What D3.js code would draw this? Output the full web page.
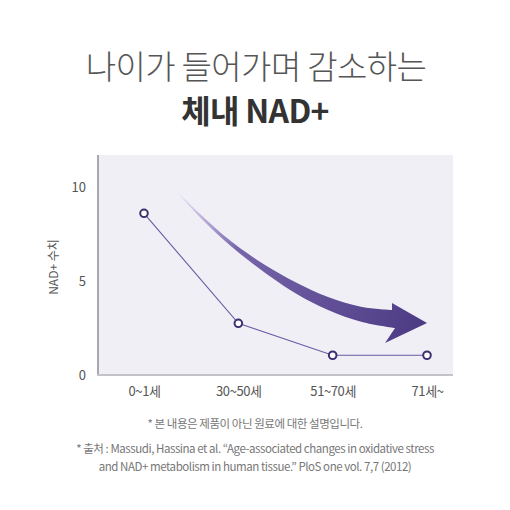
<!DOCTYPE html>
<html>
<head>
<meta charset="utf-8">
<script src="https://cdn.jsdelivr.net/npm/d3@7"></script>
<style>
	body { margin: 0; background: #fff; }
	svg { display: block; font-family: "Noto Sans CJK KR", "Noto Sans", sans-serif; }
</style>
</head>
<body>
<script>
// chart data
var ageGroups = ["0~1세", "30~50세", "51~70세", "71세~"];
var nadValues = [8.6, 2.75, 1.05, 1.05];
var yTicks = [0, 5, 10];
var titleLines = ["나이가 들어가며 감소하는", "체내 NAD+"];
var yLabel = "NAD+ 수치";
var notes = [
	"* 본 내용은 제품이 아닌 원료에 대한 설명입니다.",
	"* 출처 : Massudi, Hassina et al. \u201cAge-associated changes in oxidative stress",
	"and NAD+ metabolism in human tissue.\u201d PloS one vol. 7,7 (2012)"
];
// decorative arrow outline, in (category steps, value) units
var arrowUpper = [[0.307, 10.0], [0.572, 8.67], [0.933, 7.07], [1.283, 5.85], [1.601, 4.95],
	[1.951, 4.15], [2.311, 3.62], [2.629, 3.46]];
var arrowHead = [[2.629, 3.83], [3.0, 2.77], [2.555, 1.7], [2.661, 2.5]];
var arrowLower = [[2.661, 2.5], [2.311, 2.82], [1.951, 3.46], [1.601, 4.36], [1.103, 6.12],
	[0.753, 7.61], [0.488, 8.95], [0.307, 10.0]];

var width = 510, height = 510;
var plot = {left: 98, right: 453, top: 155, bottom: 375};

var svg = d3.select("body").append("svg")
	.attr("width", width)
	.attr("height", height);

var x = d3.scalePoint()
	.domain(ageGroups)
	.range([plot.left + 46, plot.right - 26]);
var y = d3.scaleLinear()
	.domain([0, 11.7])
	.range([plot.bottom, plot.top]);
var step = x.step(), x0 = x(ageGroups[0]);
function ax(s) { return x0 + s*step; }

// titles
svg.append("text")
	.attr("x", width/2 + 1).attr("y", 79)
	.attr("text-anchor", "middle")
	.attr("font-size", 33).attr("font-weight", 300)
	.attr("fill", "#555")
	.attr("letter-spacing", -0.6)
	.text(titleLines[0]);
svg.append("text")
	.attr("x", width/2).attr("y", 123)
	.attr("text-anchor", "middle")
	.attr("font-size", 32).attr("font-weight", 700)
	.attr("fill", "#333")
	.attr("letter-spacing", -0.7)
	.text(titleLines[1]);

// plot background
svg.append("rect")
	.attr("x", plot.left).attr("y", plot.top)
	.attr("width", plot.right - plot.left)
	.attr("height", plot.bottom - plot.top)
	.attr("fill", "#f1eff6");

// decorative arrow with gradient
var defs = svg.append("defs");
var grad = defs.append("linearGradient")
	.attr("id", "arrowGrad")
	.attr("gradientUnits", "userSpaceOnUse")
	.attr("x1", ax(0.307)).attr("y1", y(10.0))
	.attr("x2", ax(3.0)).attr("y2", y(2.77));
grad.append("stop").attr("offset", 0).attr("stop-color", "#f1eff6");
grad.append("stop").attr("offset", 0.1).attr("stop-color", "#cfc5e6");
grad.append("stop").attr("offset", 0.3).attr("stop-color", "#7866ab");
grad.append("stop").attr("offset", 1).attr("stop-color", "#4c3a84");

var edge = d3.line()
	.x(function(d) { return ax(d[0]); })
	.y(function(d) { return y(d[1]); })
	.curve(d3.curveCatmullRom);
var headLine = d3.line()
	.x(function(d) { return ax(d[0]); })
	.y(function(d) { return y(d[1]); });
var arrowD = edge(arrowUpper)
	+ headLine(arrowHead).replace("M", "L")
	+ edge(arrowLower).replace("M", "L") + "Z";
svg.append("path")
	.attr("d", arrowD)
	.attr("fill", "url(#arrowGrad)");

// axes
var yAxis = svg.append("g")
	.attr("transform", "translate(" + plot.left + ",0)")
	.call(d3.axisLeft(y).tickValues(yTicks).tickSize(0).tickPadding(12));
yAxis.select(".domain").remove();
yAxis.selectAll(".tick text")
	.attr("font-size", 13).attr("fill", "#555")
	.style("font-family", "'Noto Sans CJK KR', sans-serif");

var xAxis = svg.append("g")
	.attr("transform", "translate(0," + plot.bottom + ")")
	.call(d3.axisBottom(x).tickSize(0).tickPadding(12));
xAxis.select(".domain").remove();
xAxis.selectAll(".tick text")
	.attr("font-size", 13).attr("fill", "#555")
	.attr("letter-spacing", -0.4)
	.style("font-family", "'Noto Sans CJK KR', sans-serif");

svg.append("line")
	.attr("x1", plot.left).attr("x2", plot.left)
	.attr("y1", plot.top).attr("y2", plot.bottom)
	.attr("stroke", "#a9a7ad").attr("stroke-width", 2);
svg.append("line")
	.attr("x1", plot.left - 1).attr("x2", plot.right)
	.attr("y1", plot.bottom).attr("y2", plot.bottom)
	.attr("stroke", "#c4c3c8").attr("stroke-width", 2);

svg.append("text")
	.attr("transform", "translate(58," + ((plot.top + plot.bottom)/2 + 2) + ") rotate(-90)")
	.attr("text-anchor", "middle")
	.attr("font-size", 12).attr("fill", "#555")
	.text(yLabel);

// line + points
var data = ageGroups.map(function(d, i) { return {age: d, value: nadValues[i]}; });
var line = d3.line()
	.x(function(d) { return x(d.age); })
	.y(function(d) { return y(d.value); });
svg.append("path")
	.datum(data)
	.attr("d", line)
	.attr("fill", "none")
	.attr("stroke", "#6b5aa3")
	.attr("stroke-width", 1.1);
svg.selectAll(".pt")
	.data(data)
	.enter().append("circle")
	.attr("class", "pt")
	.attr("cx", function(d) { return x(d.age); })
	.attr("cy", function(d) { return y(d.value); })
	.attr("r", 3.8)
	.attr("fill", "#fff")
	.attr("stroke", "#3e2f72")
	.attr("stroke-width", 2);

// footnotes
var noteY = [428, 453, 471];
svg.selectAll(".note")
	.data(notes)
	.enter().append("text")
	.attr("class", "note")
	.attr("x", width/2)
	.attr("y", function(d, i) { return noteY[i]; })
	.attr("text-anchor", "middle")
	.attr("font-size", 11.5).attr("fill", "#777")
	.attr("letter-spacing", -0.45)
	.text(function(d) { return d; });
</script>
</body>
</html>
